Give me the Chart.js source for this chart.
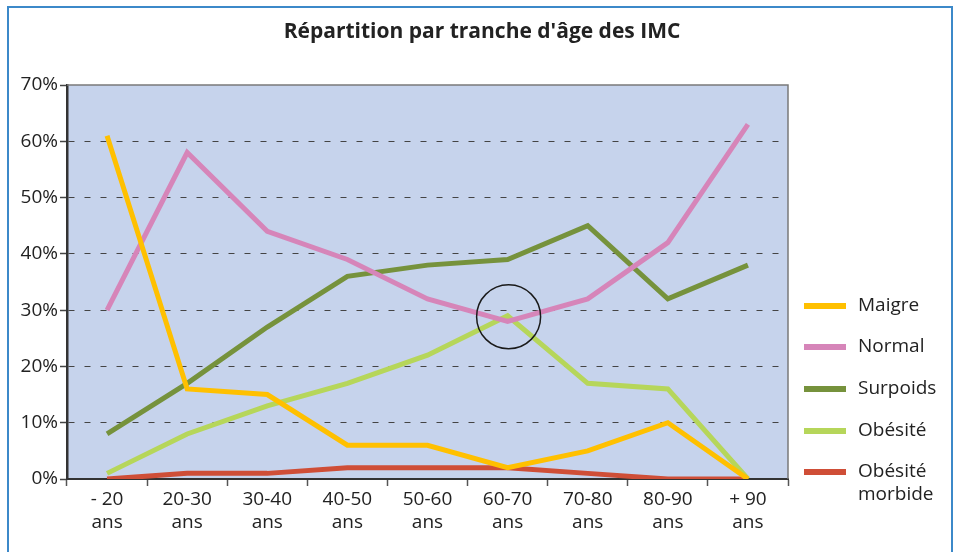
<!DOCTYPE html>
<html>
<head>
<meta charset="utf-8">
<script src="https://cdn.jsdelivr.net/npm/chart.js@4/dist/chart.umd.min.js"></script>
<style>
  html, body { margin: 0; padding: 0; background: #ffffff; }
  #wrap { width: 958px; height: 552px; position: relative; }
</style>
</head>
<body>
<div id="wrap"><canvas id="c" width="958" height="552"></canvas></div>
<script>
const chartTitle = "Répartition par tranche d'âge des IMC";
const categories = [
  ['- 20', 'ans'], ['20-30', 'ans'], ['30-40', 'ans'], ['40-50', 'ans'], ['50-60', 'ans'],
  ['60-70', 'ans'], ['70-80', 'ans'], ['80-90', 'ans'], ['+ 90', 'ans']
];
const seriesNames = ['Maigre', 'Normal', 'Surpoids', 'Obésité', 'Obésité morbide'];
const maigre   = [61, 16, 15, 6, 6, 2, 5, 10, 0];
const normal   = [30, 58, 44, 39, 32, 28, 32, 42, 63];
const surpoids = [8, 17, 27, 36, 38, 39, 45, 32, 38];
const obesite  = [1, 8, 13, 17, 22, 29, 17, 16, 0];
const morbide  = [0, 1, 1, 2, 2, 2, 1, 0, 0];
const legendLines = [['Maigre'], ['Normal'], ['Surpoids'], ['Obésité'], ['Obésité', 'morbide']];
const yTicks = [0, 10, 20, 30, 40, 50, 60, 70];
const highlight = { index: 5, value: 29 };

const colors = ['#FFC000', '#D685B9', '#76923C', '#B6D65A', '#CF4E37'];
const FONT = '"Open Sans", "Liberation Sans", sans-serif';

const seriesValues = [maigre, normal, surpoids, obesite, morbide];

const extras = {
  id: 'extras',
  beforeDraw(chart) {
    const { ctx, chartArea: a } = chart;
    ctx.save();
    ctx.fillStyle = '#C6D3EC';
    ctx.fillRect(a.left, a.top, a.right - a.left, a.bottom - a.top);
    ctx.restore();
  },
  afterDraw(chart) {
    const { ctx, chartArea: a } = chart;
    const xs = chart.scales.x, ys = chart.scales.y;
    ctx.save();
    // top and right plot border
    ctx.strokeStyle = '#7a7a7a';
    ctx.lineWidth = 1.5;
    ctx.beginPath();
    ctx.moveTo(a.left, a.top);
    ctx.lineTo(a.right, a.top);
    ctx.lineTo(a.right, a.bottom);
    ctx.stroke();
    // highlight circle
    ctx.strokeStyle = '#1a1a1a';
    ctx.lineWidth = 1.5;
    ctx.beginPath();
    ctx.arc(xs.getPixelForValue(highlight.index) + 1, ys.getPixelForValue(highlight.value) + 1, 32, 0, Math.PI * 2);
    ctx.stroke();
    // title
    ctx.fillStyle = '#222';
    ctx.font = 'bold 21px ' + FONT;
    ctx.textAlign = 'center';
    ctx.textBaseline = 'middle';
    ctx.fillText(chartTitle, 482, 32);
    // legend
    const ys0 = [306, 347, 389, 431, 472];
    ctx.font = '19px ' + FONT;
    ctx.textAlign = 'left';
    chart.data.datasets.forEach((ds, i) => {
      ctx.fillStyle = ds.borderColor;
      ctx.fillRect(804, ys0[i] - 3, 42, 6);
      ctx.fillStyle = '#222';
      legendLines[i].forEach((t, j) => ctx.fillText(t, 858, ys0[i] + j * 23));
    });
    // outer frame
    ctx.strokeStyle = '#3C89C9';
    ctx.lineWidth = 2;
    ctx.strokeRect(8, 7, 944, 570);
    ctx.restore();
  }
};

new Chart(document.getElementById('c'), {
  type: 'line',
  data: {
    labels: categories,
    datasets: seriesNames.map((n, i) => ({
      label: n,
      data: seriesValues[i],
      borderColor: colors[i],
      backgroundColor: colors[i],
      borderWidth: 5,
      pointRadius: 0,
      pointHoverRadius: 0,
      tension: 0,
      borderJoinStyle: 'miter',
      borderCapStyle: 'butt'
    }))
  },
  options: {
    responsive: false,
    animation: false,
    events: [],
    layout: { padding: { top: 85, right: 170, bottom: 0, left: 0 } },
    plugins: { legend: { display: false }, title: { display: false }, tooltip: { enabled: false } },
    scales: {
      x: {
        type: 'category',
        offset: true,
        grid: { offset: true, drawOnChartArea: false, drawTicks: true, tickLength: 7, tickColor: '#555', tickWidth: 1.5 },
        border: { color: '#333', width: 2 },
        ticks: { font: { family: FONT, size: 19, lineHeight: 1.2 }, color: '#222', padding: 2, maxRotation: 0, autoSkip: false },
        afterFit(s) { s.height = 73; }
      },
      y: {
        min: 0, max: 70,
        afterBuildTicks(s) { s.ticks = yTicks.map(v => ({ value: v })); },
        grid: {
          color: c => (c.tick && (c.tick.value === 70 || c.tick.value === 0)) ? 'rgba(0,0,0,0)' : '#444',
          lineWidth: 1,
          tickLength: 7, tickColor: '#444', tickWidth: 1.5
        },
        border: { color: '#333', width: 2.5, dash: [6, 10] },
        ticks: { font: { family: FONT, size: 19 }, color: '#222', padding: 2, callback: v => v + '%' },
        afterFit(s) { s.width = 67; }
      }
    }
  },
  plugins: [extras]
});
</script>
</body>
</html>
